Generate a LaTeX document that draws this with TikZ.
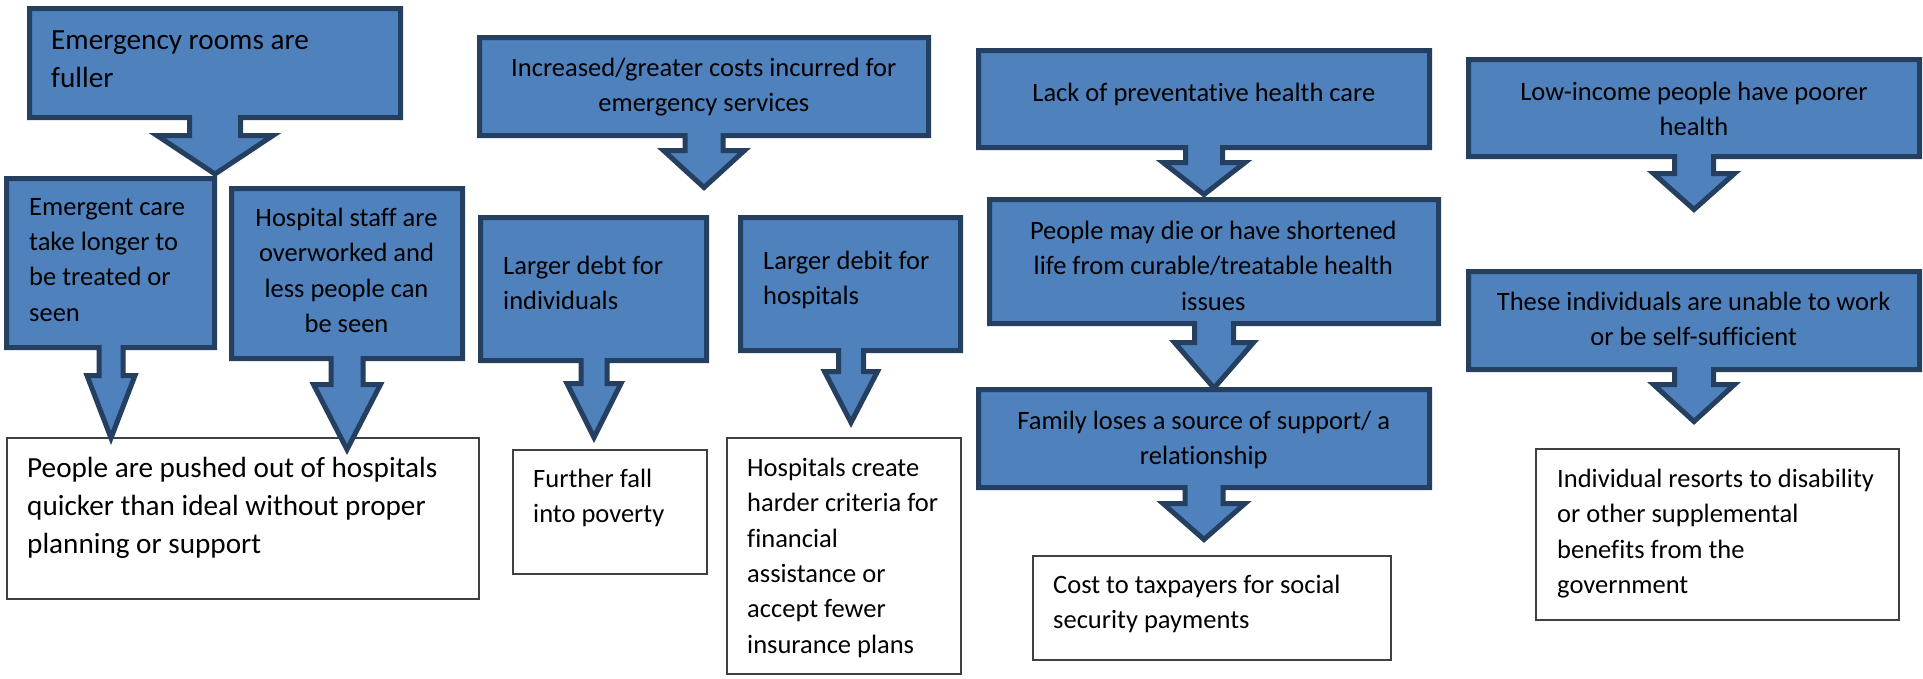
\documentclass[tikz,border=0pt]{standalone}
\usepackage{fontspec}
\setmainfont{Carlito}[RawFeature={-liga}]
\definecolor{boxfill}{HTML}{4F81BD}
\definecolor{boxline}{HTML}{243F60}
\definecolor{noteline}{HTML}{404040}
\tikzset{
  flow/.style={fill=boxfill, draw=boxline, line width=5pt, line join=miter},
  note/.style={draw=noteline, line width=1.5pt, fill=white},
  lbl/.style={inner sep=0pt, text=black, font=\fontsize{26.5}{35.3}\selectfont},
  lblbig/.style={inner sep=0pt, text=black, font=\fontsize{29.2}{38}\selectfont},
}
% box with a down-pointing arrow below it:
% #1 left, #2 top, #3 right, #4 bottom, #5 arrow axis x,
% #6 stem half width, #7 shoulder y, #8 head half width, #9 tip y
\newcommand\calloutbox[9]{%
  \draw[flow] (#1,#2) -- (#3,#2) -- (#3,#4) -- ({#5+#6},#4) -- ({#5+#6},#7)
    -- ({#5+#8},#7) -- (#5,#9) -- ({#5-#8},#7) -- ({#5-#6},#7)
    -- ({#5-#6},#4) -- (#1,#4) -- cycle;}
\begin{document}
\begin{tikzpicture}[x=1pt, y=-1pt]
\useasboundingbox (0,0) rectangle (1923,678);

% outcome boxes
\draw[note] (7,438) rectangle (479,599);
\draw[note] (513,450) rectangle (707,574);
\draw[note] (727,438) rectangle (961,674);
\draw[note] (1033,556) rectangle (1391,660);
\draw[note] (1536,449) rectangle (1899,620);

% column 1
\calloutbox{6.5}{178.5}{214.5}{347.5}{111}{12}{375.5}{24}{438}
\calloutbox{231.5}{188.5}{462.5}{358.5}{347}{16}{384.5}{33.5}{449.5}
\calloutbox{29.5}{8.5}{400.5}{117.5}{215}{25.5}{135.5}{58}{174}
% column 2
\calloutbox{480.5}{217.5}{706.5}{360.5}{594}{13}{383.5}{27}{437.5}
\calloutbox{740.5}{217.5}{960.5}{350.5}{851}{12.5}{371.5}{26.5}{422.5}
\calloutbox{479.5}{37.5}{928.5}{135.5}{704}{19}{150.5}{40.5}{187.5}
% column 3
\calloutbox{978.5}{389.5}{1429.5}{487.5}{1204}{19}{503.5}{41}{539.5}
\calloutbox{989.5}{199.5}{1438.5}{323.5}{1214}{19.5}{342.5}{39.5}{388}
\calloutbox{978.5}{50.5}{1429.5}{147.5}{1204}{18.5}{162.5}{41}{194.5}
% column 4
\calloutbox{1468.5}{271.5}{1919.5}{369.5}{1694}{19.5}{384.5}{40.5}{421.5}
\calloutbox{1468.5}{59.5}{1919.5}{156.5}{1694}{19.5}{173.5}{40.5}{209.5}

% texts
\node[lblbig, anchor=north west, align=left] (er) at (51,31) {Emergency rooms are\\fuller};
\node[lbl, anchor=north west, align=left] (ec) at (29,198) {Emergent care\\take longer to\\be treated or\\seen};
\node[lbl, anchor=north, align=center] (hs) at (346.5,208) {Hospital staff are\\overworked and\\less people can\\be seen};
\node[lblbig, anchor=north west, align=left] (po) at (27,457) {People are pushed out of hospitals\\quicker than ideal without proper\\planning or support};

\node[lbl, anchor=north, align=center] (ic) at (703.8,58) {Increased/greater costs incurred for\\emergency services};
\node[lbl, anchor=north west, align=left] (di) at (503,256) {Larger debt for\\individuals};
\node[lbl, anchor=north west, align=left] (dh) at (763,251) {Larger debit for\\hospitals};
\node[lbl, anchor=north west, align=left] (ff) at (533,469) {Further fall\\into poverty};
\node[lbl, anchor=north west, align=left] (hc) at (747,458) {Hospitals create\\harder criteria for\\financial\\assistance or\\accept fewer\\insurance plans};

\node[lbl, anchor=north, align=center] (lp) at (1203.8,83) {Lack of preventative health care};
\node[lbl, anchor=north, align=center] (pd) at (1213.3,221) {People may die or have shortened\\life from curable/treatable health\\issues};
\node[lbl, anchor=north, align=center] (fl) at (1203.8,411) {Family loses a source of support/ a\\relationship};
\node[lbl, anchor=north west, align=left] (ct) at (1053,575) {Cost to taxpayers for social\\security payments};

\node[lbl, anchor=north, align=center] (li) at (1694,82) {Low-income people have poorer\\health};
\node[lbl, anchor=north, align=center] (ti) at (1693.7,292) {These individuals are unable to work\\or be self-sufficient};
\node[lbl, anchor=north west, align=left] (ir) at (1557,469) {Individual resorts to disability\\or other supplemental\\benefits from the\\government};
\end{tikzpicture}
\end{document}
